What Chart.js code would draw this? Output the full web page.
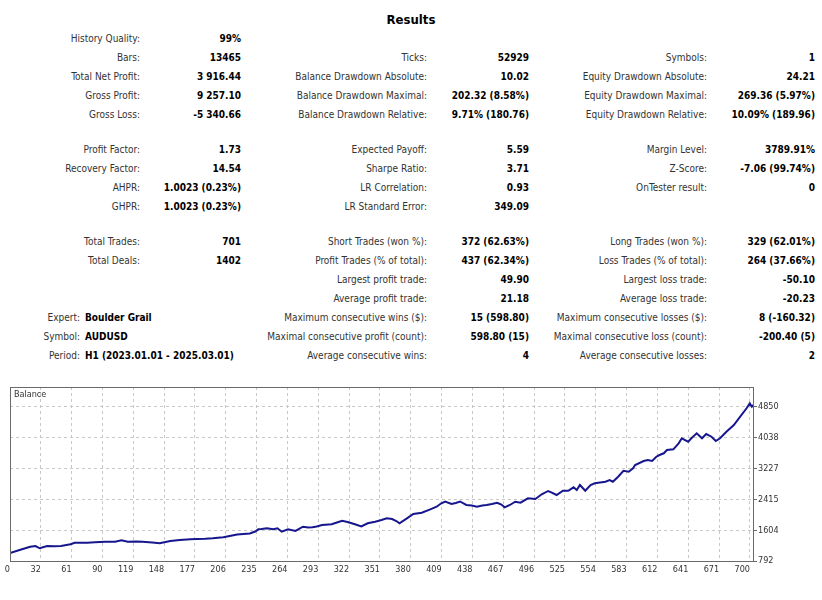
<!DOCTYPE html>
<html>
<head>
<meta charset="utf-8">
<title>Results</title>
<script src="https://cdn.jsdelivr.net/npm/chart.js@4.4.1/dist/chart.umd.min.js"></script>
<style>
  html, body { margin: 0; padding: 0; background: #fff; }
  #page {
    position: relative;
    width: 822px;
    height: 600px;
    overflow: hidden;
    font-family: "DejaVu Sans Condensed", "DejaVu Sans", sans-serif;
    font-size: 10px;
  }
  .cell { position: absolute; white-space: nowrap; line-height: 14px; }
  .lbl { color: #333; }
  .val { color: #000; font-weight: bold; }
  #title {
    position: absolute; left: 0; width: 822px; top: 12px;
    text-align: center; font-weight: bold; font-size: 13px; color: #000;
  }
  #chartBox { position: absolute; left: 0; top: 380px; width: 822px; height: 200px; }
</style>
</head>
<body>
<div id="page">
  <div id="title">Results</div>
  <div id="chartBox"><canvas id="balanceChart" width="822" height="200"></canvas></div>
</div>

<script>
// ============================================
// Strategy tester report - results table + balance curve
// ============================================

// --- report rows: [label, value] (null = empty cell) ---
const rowY = [39, 58, 77, 96, 115, 150, 169, 188, 207, 242, 261, 280, 299, 318, 337, 356];

const statsCol1 = [
  ['History Quality:', '99%'],
  ['Bars:', '13465'],
  ['Total Net Profit:', '3 916.44'],
  ['Gross Profit:', '9 257.10'],
  ['Gross Loss:', '-5 340.66'],
  ['Profit Factor:', '1.73'],
  ['Recovery Factor:', '14.54'],
  ['AHPR:', '1.0023 (0.23%)'],
  ['GHPR:', '1.0023 (0.23%)'],
  ['Total Trades:', '701'],
  ['Total Deals:', '1402'],
  null,
  null
];

const testerInfo = [
  ['Expert:', 'Boulder Grail'],
  ['Symbol:', 'AUDUSD'],
  ['Period:', 'H1 (2023.01.01 - 2025.03.01)']
];

const statsCol2 = [
  null,
  ['Ticks:', '52929'],
  ['Balance Drawdown Absolute:', '10.02'],
  ['Balance Drawdown Maximal:', '202.32 (8.58%)'],
  ['Balance Drawdown Relative:', '9.71% (180.76)'],
  ['Expected Payoff:', '5.59'],
  ['Sharpe Ratio:', '3.71'],
  ['LR Correlation:', '0.93'],
  ['LR Standard Error:', '349.09'],
  ['Short Trades (won %):', '372 (62.63%)'],
  ['Profit Trades (% of total):', '437 (62.34%)'],
  ['Largest profit trade:', '49.90'],
  ['Average profit trade:', '21.18'],
  ['Maximum consecutive wins ($):', '15 (598.80)'],
  ['Maximal consecutive profit (count):', '598.80 (15)'],
  ['Average consecutive wins:', '4']
];

const statsCol3 = [
  null,
  ['Symbols:', '1'],
  ['Equity Drawdown Absolute:', '24.21'],
  ['Equity Drawdown Maximal:', '269.36 (5.97%)'],
  ['Equity Drawdown Relative:', '10.09% (189.96)'],
  ['Margin Level:', '3789.91%'],
  ['Z-Score:', '-7.06 (99.74%)'],
  ['OnTester result:', '0'],
  null,
  ['Long Trades (won %):', '329 (62.01%)'],
  ['Loss Trades (% of total):', '264 (37.66%)'],
  ['Largest loss trade:', '-50.10'],
  ['Average loss trade:', '-20.23'],
  ['Maximum consecutive losses ($):', '8 (-160.32)'],
  ['Maximal consecutive loss (count):', '-200.40 (5)'],
  ['Average consecutive losses:', '2']
];

// --- balance curve (trade number -> balance) ---
const balanceTrades = [
  0, 9, 19, 24, 28, 35, 42, 48, 57, 61,
  73, 80, 90, 99, 105, 111, 119, 125, 134, 141,
  151, 160, 170, 176, 184, 191, 201, 207, 214, 226,
  231, 234, 237, 242, 248, 252, 256, 262, 269, 276,
  281, 285, 289, 294, 303, 308, 313, 318, 325, 331,
  337, 344, 350, 355, 360, 364, 367, 374, 380, 388,
  396, 402, 406, 410, 416, 420, 424, 430, 435, 440,
  445, 449, 454, 459, 463, 466, 471, 476, 481, 488,
  495, 501, 507, 510, 515, 521, 526, 531, 534, 537,
  542, 547, 551, 561, 565, 568, 573, 578, 583, 587,
  589, 597, 601, 605, 609, 612, 616, 619, 625, 630,
  633, 636, 639, 642, 647, 652, 656, 661, 665, 669,
  675, 682, 688, 694, 697, 699, 701
];
const balanceValues = [
  1000, 1082, 1169, 1187, 1127, 1187, 1179, 1187, 1232, 1274,
  1274, 1285, 1301, 1301, 1337, 1301, 1306, 1301, 1279, 1258,
  1319, 1345, 1364, 1372, 1377, 1390, 1416, 1451, 1490, 1517,
  1569, 1627, 1635, 1654, 1627, 1654, 1564, 1627, 1583, 1696,
  1675, 1680, 1701, 1741, 1759, 1806, 1854, 1820, 1759, 1701,
  1785, 1828, 1872, 1917, 1899, 1846, 1785, 1917, 2030, 2065,
  2154, 2223, 2307, 2360, 2294, 2320, 2360, 2268, 2254, 2223,
  2254, 2268, 2294, 2328, 2281, 2207, 2268, 2355, 2328, 2444,
  2426, 2550, 2637, 2602, 2531, 2644, 2644, 2734, 2663, 2795,
  2644, 2795, 2839, 2882, 2926, 2882, 3013, 3171, 3145, 3235,
  3322, 3427, 3453, 3427, 3540, 3585, 3630, 3717, 3735, 3893,
  4025, 3980, 3936, 4025, 4157, 4025, 4138, 4067, 3954, 4025,
  4199, 4376, 4594, 4816, 4947, 4858, 4916
];

// axis labels as printed by the tester
const xTickLabels = ['0', '32', '61', '90', '119', '148', '177', '206', '235', '264', '293', '322', '351',
  '380', '409', '438', '467', '496', '525', '554', '583', '612', '641', '671', '700'];
const yTickValues = [792, 1604, 2415, 3227, 4038, 4850];

const X_MAX = 701;           // total trades
const X_GRID_STEP = 29.05;   // tester grid spacing in trades
const Y_MIN = 792;
const Y_MAX = 5377;

// ---------- table ----------
const page = document.getElementById('page');

function addText(text, cls, y, rightEdge, leftEdge) {
  const el = document.createElement('div');
  el.className = 'cell ' + cls;
  el.textContent = text;
  el.style.top = (y - 7) + 'px';
  if (rightEdge != null) el.style.right = (822 - rightEdge) + 'px';
  else el.style.left = leftEdge + 'px';
  page.appendChild(el);
}

function addColumn(rows, labelRight, valueRight) {
  rows.forEach((row, i) => {
    if (!row) return;
    addText(row[0], 'lbl', rowY[i], labelRight);
    addText(row[1], 'val', rowY[i], valueRight);
  });
}

addColumn(statsCol1, 140, 241);
addColumn(statsCol2, 427, 529);
addColumn(statsCol3, 707, 815);

testerInfo.forEach((row, i) => {
  const y = rowY[13 + i];
  addText(row[0], 'lbl', y, 80);
  addText(row[1], 'val', y, null, 85);
});

// ---------- chart ----------
const frameAndTitle = {
  id: 'frameAndTitle',
  afterDraw(chart) {
    const { ctx, chartArea: a } = chart;
    ctx.save();
    ctx.strokeStyle = '#6a6a6a';
    ctx.lineWidth = 1;
    ctx.strokeRect(a.left + 0.5, a.top + 0.5, a.right - a.left - 1, a.bottom - a.top);
    ctx.fillStyle = '#333';
    ctx.font = '9px "DejaVu Sans Condensed", "DejaVu Sans", sans-serif';
    ctx.textBaseline = 'top';
    ctx.fillText('Balance', a.left + 4, a.top + 3);
    ctx.restore();
  }
};

const axisFont = { family: '"DejaVu Sans Condensed", "DejaVu Sans", sans-serif', size: 9 };

new Chart(document.getElementById('balanceChart'), {
  type: 'line',
  data: {
    datasets: [{
      label: 'Balance',
      data: balanceTrades.map((t, i) => ({ x: t, y: balanceValues[i] })),
      borderColor: '#16168e',
      borderWidth: 2,
      pointRadius: 0,
      fill: false,
      tension: 0
    }]
  },
  options: {
    responsive: false,
    animation: false,
    layout: { padding: { top: 7, left: 10, right: 0, bottom: 0 } },
    plugins: {
      legend: { display: false },
      tooltip: { enabled: false }
    },
    scales: {
      x: {
        type: 'linear',
        min: 0,
        max: X_MAX,
        afterBuildTicks: (scale) => {
          scale.ticks = xTickLabels.map((_, i) => ({ value: i * X_GRID_STEP }));
        },
        afterFit: (scale) => { scale.height = 19; },
        border: { display: false, dash: [3, 3] },
        grid: { color: '#c8c8c8', drawTicks: false },
        ticks: {
          autoSkip: false,
          maxRotation: 0,
          align: 'end',
          padding: 3,
          color: '#333',
          font: axisFont,
          callback: (value, index) => xTickLabels[index]
        }
      },
      y: {
        position: 'right',
        min: Y_MIN,
        max: Y_MAX,
        afterBuildTicks: (scale) => {
          scale.ticks = yTickValues.map(v => ({ value: v }));
        },
        afterFit: (scale) => { scale.width = 68; },
        border: { display: false, dash: [3, 3] },
        grid: {
          color: '#c8c8c8',
          tickLength: 3,
          tickColor: '#6a6a6a',
          tickBorderDash: []
        },
        ticks: {
          padding: 1,
          color: '#333',
          font: axisFont,
          callback: (value) => String(value)
        }
      }
    }
  },
  plugins: [frameAndTitle]
});
</script>
</body>
</html>
